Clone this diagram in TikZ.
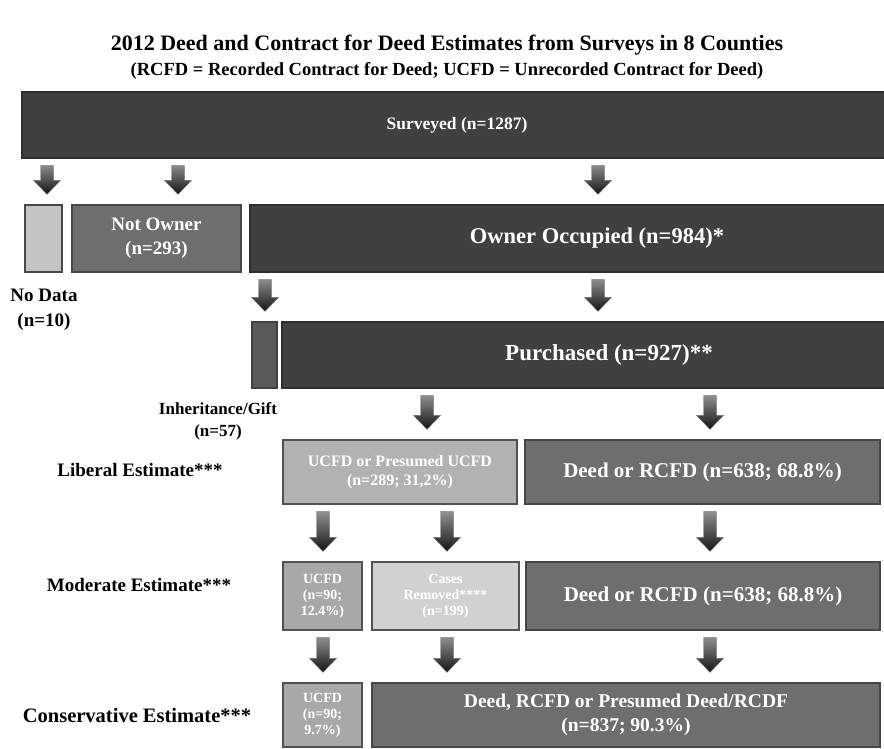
\documentclass[tikz,border=0pt]{standalone}
\usepackage{fontspec}
\setmainfont{Liberation Serif}
\usetikzlibrary{calc}

\begin{document}
\begin{tikzpicture}[
    x=1pt, y=-1pt,
    box/.style = {rectangle, draw=black!82, fill=black!75, line width=1.2pt, align=center, text=white, font=\fontsize{20}{24}\selectfont\bfseries, inner sep=2pt},
    midbox/.style = {box, draw=black!72, fill=black!57},
    lightbox/.style = {box, draw=black!68, fill=black!30, font=\fontsize{16}{19}\selectfont\bfseries},
    smallbox/.style = {box, draw=black!68, fill=black!34, font=\fontsize{14}{16}\selectfont\bfseries},
    palebox/.style = {smallbox, fill=black!18},
    side/.style = {align=center, font=\fontsize{19}{25}\selectfont\bfseries},
    barrow/.style = {top color=black!35, bottom color=black!92, draw=black!55, line width=0.4pt,
        to path={let \p1=(\tikztostart), \p2=(\tikztotarget) in
            (\x1-6.5,\y1-7) -- (\x1+6.5,\y1-7) -- (\x1+6.5,\y2+24) -- (\x1+13.5,\y2+24)
            -- (\x1,\y2+10) -- (\x1-13.5,\y2+24) -- (\x1-6.5,\y2+24) -- cycle}}
]
\useasboundingbox (0,0) rectangle (884,749);
\clip (0,0) rectangle (884,749);

% Title
\node (title) [font=\fontsize{22}{26}\selectfont\bfseries] at (447,45) {2012 Deed and Contract for Deed Estimates from Surveys in 8 Counties};
\node (subtitle) [font=\fontsize{18.5}{22}\selectfont\bfseries] at (447,71) {(RCFD = Recorded Contract for Deed; UCFD = Unrecorded Contract for Deed)};

% Row 1
\node (surveyed) [box, minimum width=870pt, minimum height=66pt, font=\fontsize{17.5}{21}\selectfont\bfseries] at (457,125) {Surveyed (n=1287)};

% Row 2
\node (nodata) [box, draw=black!72, fill=black!23, minimum width=37pt, minimum height=67pt] at (43.5,238.5) {};
\node (notowner) [midbox, minimum width=169pt, minimum height=67pt, font=\fontsize{19}{24}\selectfont\bfseries] at (156.5,238.5) {Not Owner\\(n=293)};
\node (owner) [box, minimum width=694pt, minimum height=67pt, font=\fontsize{22.5}{26}\selectfont\bfseries] at (597,238.5) {Owner Occupied (n=984)*};
\node (nodatalbl) [side] at (44,310) {No Data\\(n=10)};

% Row 3
\node (inherit) [box, draw=black!75, fill=black!65, minimum width=25pt, minimum height=66pt] at (264.5,355) {};
\node (purchased) [box, minimum width=654pt, minimum height=66pt, font=\fontsize{23}{26}\selectfont\bfseries] at (609,355) {Purchased (n=927)**};
\node (inheritlbl) [side, font=\fontsize{17}{22}\selectfont\bfseries] at (218,421) {Inheritance/Gift\\(n=57)};

% Row 4
\node (libucfd) [lightbox, minimum width=234pt, minimum height=64pt] at (400,472) {UCFD or Presumed UCFD\\(n=289; 31,2\%)};
\node (libdeed) [midbox, minimum width=355pt, minimum height=64pt, font=\fontsize{21}{24}\selectfont\bfseries] at (702.5,472) {Deed or RCFD (n=638; 68.8\%)};
\node (liblbl) [side] at (140,470) {Liberal Estimate***};

% Row 5
\node (moducfd) [smallbox, minimum width=79pt, minimum height=68pt] at (322.5,596) {UCFD\\(n=90;\\12.4\%)};
\node (removed) [palebox, minimum width=147pt, minimum height=68pt] at (445.5,596) {Cases\\Removed****\\(n=199)};
\node (moddeed) [midbox, minimum width=354pt, minimum height=68pt, font=\fontsize{21}{24}\selectfont\bfseries] at (703,596) {Deed or RCFD (n=638; 68.8\%)};
\node (modlbl) [side] at (139,585) {Moderate Estimate***};

% Row 6
\node (conucfd) [smallbox, minimum width=79pt, minimum height=64pt] at (322.5,715) {UCFD\\(n=90;\\9.7\%)};
\node (condeed) [midbox, minimum width=508pt, minimum height=64pt, font=\fontsize{19.5}{24}\selectfont\bfseries] at (626,715) {Deed, RCFD or Presumed Deed/RCDF\\(n=837; 90.3\%)};
\node (conlbl) [side, font=\fontsize{20.5}{25}\selectfont\bfseries] at (137,715) {Conservative Estimate***};

% Arrow columns
\coordinate (c1) at (47,0);
\coordinate (c2) at (178,0);
\coordinate (c3) at (598,0);
\coordinate (c4) at (265,0);
\coordinate (c5) at (427,0);
\coordinate (c6) at (710,0);
\coordinate (c7) at (323,0);
\coordinate (c8) at (447,0);

% Arrows
\shade [barrow] (surveyed.south -| c1) to (nodata.north -| c1);
\shade [barrow] (surveyed.south -| c2) to (notowner.north -| c2);
\shade [barrow] (surveyed.south -| c3) to (owner.north -| c3);
\shade [barrow] (owner.south -| c4) to (inherit.north -| c4);
\shade [barrow] (owner.south -| c3) to (purchased.north -| c3);
\shade [barrow] (purchased.south -| c5) to (libucfd.north -| c5);
\shade [barrow] (purchased.south -| c6) to (libdeed.north -| c6);
\shade [barrow] (libucfd.south -| c7) to (moducfd.north -| c7);
\shade [barrow] (libucfd.south -| c8) to (removed.north -| c8);
\shade [barrow] (libdeed.south -| c6) to (moddeed.north -| c6);
\shade [barrow] (moducfd.south -| c7) to (conucfd.north -| c7);
\shade [barrow] (removed.south -| c8) to (condeed.north -| c8);
\shade [barrow] (moddeed.south -| c6) to (condeed.north -| c6);

\end{tikzpicture}
\end{document}
